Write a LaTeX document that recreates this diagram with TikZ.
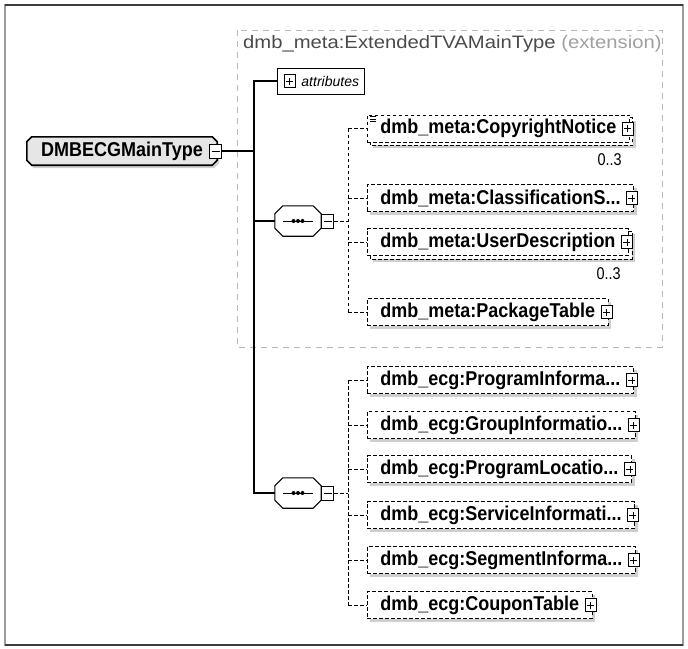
\documentclass[tikz,border=0pt]{standalone}
\usepackage{fontspec}
\setmainfont{Liberation Sans}
\newfontfamily\extfont[FakeStretch=1.125]{Liberation Sans}
\newfontfamily\elemfont[FakeStretch=0.9]{Liberation Sans}
\newfontfamily\occfont[FakeStretch=0.85]{Liberation Sans}
\usepackage{tikz}
\usetikzlibrary{positioning, calc, shadows, backgrounds}
\definecolor{FrameGray}{HTML}{9A9A9A}
\definecolor{FrameDark}{HTML}{3C3C3C}
\definecolor{ExtLine}{HTML}{B8B8B8}
\definecolor{ExtText}{HTML}{4A4A4A}
\definecolor{ExtNote}{HTML}{A0A0A0}
\definecolor{ShadeGray}{HTML}{CFCFCF}
\definecolor{TypeFill}{HTML}{E6E6E6}
% outline of a box with cut corners, taken from a node's anchors
\newcommand{\chamferpath}[2]{([xshift=#2]#1.north west) -- ([xshift=-#2]#1.north east)
  -- ([yshift=-#2]#1.north east) -- ([yshift=#2]#1.south east) -- ([xshift=-#2]#1.south east)
  -- ([xshift=#2]#1.south west) -- ([yshift=#2]#1.south west) -- ([yshift=-#2]#1.north west) -- cycle}

\begin{document}
\begin{tikzpicture}[x=1pt, y=-1pt,
  tree/.style={line width=1.2pt},
  optline/.style={line width=0.9pt, dash pattern=on 3.5pt off 2.5pt},
  btn/.style={draw, solid, fill=white, line width=0.9pt, minimum width=12pt, minimum height=14pt, inner sep=0pt},
  minusbtn/.style={btn, path picture={
      \draw[line width=0.9pt] ([xshift=-4pt]path picture bounding box.center) -- ([xshift=4pt]path picture bounding box.center);}},
  plusbtn/.style={btn, minimum width=11pt, minimum height=13pt, path picture={
      \draw[line width=0.9pt] ([xshift=-3.5pt]path picture bounding box.center) -- ([xshift=3.5pt]path picture bounding box.center)
        ([yshift=-3.5pt]path picture bounding box.center) -- ([yshift=3.5pt]path picture bounding box.center);}},
  elembase/.style={draw, optline, fill=white, anchor=west, inner xsep=13pt, inner ysep=0pt,
    minimum height=27pt, font=\elemfont\fontsize{20}{22}\selectfont\bfseries},
  elem/.style={elembase, drop shadow={shadow xshift=3pt, shadow yshift=-3pt, fill=ShadeGray, opacity=1}},
  typebox/.style={minimum width=190pt, minimum height=28pt, inner sep=2pt,
    font=\elemfont\fontsize{20}{22}\selectfont\bfseries},
  seqbox/.style={minimum width=46pt, minimum height=30pt, inner sep=0pt},
  occurs/.style={anchor=north east, font=\occfont\fontsize{17}{19}\selectfont, inner sep=0pt}
]
  \useasboundingbox (0,0) rectangle (688,648);
  % outer frame
  \draw[FrameGray, line width=1.5pt] (5,5) rectangle (683,645);
  \draw[FrameDark, line width=1.8pt] (5,5) -- (683,5) (5,645) -- (683,645);
  % extension frame and its title
  \draw[ExtLine, line width=0.9pt, dash pattern=on 6pt off 5pt] (237,30) rectangle (662,347);
  \node[anchor=west, inner sep=0pt, text=ExtText, font=\extfont\fontsize{18}{20}\selectfont] (exttitle) at (243,44)
    {dmb\_meta:ExtendedTVAMainType \textcolor{ExtNote}{(extension)}};

  % the complex type
  \node[typebox] (main) at (122,151) {DMBECGMainType};
  \begin{scope}[on background layer]
    \fill[ShadeGray, transform canvas={xshift=2pt, yshift=-3pt}] \chamferpath{main}{5pt};
    \filldraw[fill=TypeFill, line width=1.6pt] \chamferpath{main}{5pt};
  \end{scope}
  \node[minusbtn] (main-x) at ([xshift=-1.5pt]main.east) {};
  \coordinate (tk) at (254,151);

  % attributes
  \node[draw, line width=0.9pt, anchor=west, minimum height=26pt, inner xsep=5pt,
    font=\fontsize{14}{16}\selectfont\itshape] (attr) at (277,81) {\hspace{19pt}attributes};
  \node[plusbtn] (attr-x) at ([xshift=12.5pt]attr.west) {};

  % two sequences
  \node[seqbox] (seqA) at (298,221) {};
  \node[seqbox] (seqB) at (298,493) {};
  \foreach \sq in {seqA,seqB} {
    \filldraw[fill=white, line width=1.1pt] \chamferpath{\sq}{8pt};
    \draw[line width=1pt] ([xshift=-15pt]\sq.center) -- ([xshift=15pt]\sq.center);
    \foreach \dx in {-4.5,0,4.5} \fill ([xshift=\dx pt]\sq.center) circle (2pt);
    \node[minusbtn, anchor=west] (\sq-x) at (\sq.east) {};
  }
  \coordinate (ja) at (348,221);
  \coordinate (jb) at (348,493);

  \draw[tree] (main-x.east) -- (tk);
  \draw[tree] (attr.west) -| (tk) |- (seqB.west);
  \draw[tree] (tk |- seqA.west) -- (seqA.west);
  \draw[optline] (seqA-x.east) -- (ja);
  \draw[optline] (seqB-x.east) -- (jb);

  % first sequence: dmb_meta children
  \node[elembase] (cn) at (367,128.5) {dmb\_meta:CopyrightNotice\hspace{8pt}};
  \node[elem] (cls) at (367,198) {dmb\_meta:ClassificationS...};
  \node[elembase] (ud) at (367,242) {dmb\_meta:UserDescription\hspace{8pt}};
  \node[elem] (pt) at (367,312) {dmb\_meta:PackageTable\hspace{8pt}};
  % repeated elements get a second box behind
  \begin{scope}[on background layer]
    \foreach \nm in {cn,ud} {
      \fill[ShadeGray] ([shift={(6,6)}]\nm.north west) rectangle ([shift={(6,6)}]\nm.south east);
      \filldraw[optline, fill=white] ([shift={(3,3)}]\nm.north west) rectangle ([shift={(3,3)}]\nm.south east);
    }
  \end{scope}
  \foreach \k in {0,2.5,5} \draw[line width=0.6pt] ([shift={(3,2+\k)}]cn.north west) -- ++(6,0);
  \node[occurs] (cn-occ) at ([shift={(-8,11)}]cn.south east) {0..3};
  \node[occurs] (ud-occ) at ([shift={(-8,11)}]ud.south east) {0..3};

  % second sequence: dmb_ecg children
  \node[elem] (pi) at (367,380) {dmb\_ecg:ProgramInforma...};
  \node[elem] (gi) at (367,425) {dmb\_ecg:GroupInformatio...};
  \node[elem] (pl) at (367,469) {dmb\_ecg:ProgramLocatio...};
  \node[elem] (si) at (367,515) {dmb\_ecg:ServiceInformati...};
  \node[elem] (sg) at (367,560) {dmb\_ecg:SegmentInforma...};
  \node[elem] (ct) at (367,605) {dmb\_ecg:CouponTable\hspace{8pt}};

  \draw[optline] (ja |- cn.west) -- (ja |- pt.west);
  \draw[optline] (jb |- pi.west) -- (jb |- ct.west);
  \foreach \nm in {cn,cls,ud,pt} {
    \node[plusbtn] (\nm-x) at ([xshift=-2pt]\nm.east) {};
    \draw[optline] (ja |- \nm.west) -- (\nm.west);
  }
  \foreach \nm in {pi,gi,pl,si,sg,ct} {
    \node[plusbtn] (\nm-x) at ([xshift=-2pt]\nm.east) {};
    \draw[optline] (jb |- \nm.west) -- (\nm.west);
  }
\end{tikzpicture}
\end{document}
